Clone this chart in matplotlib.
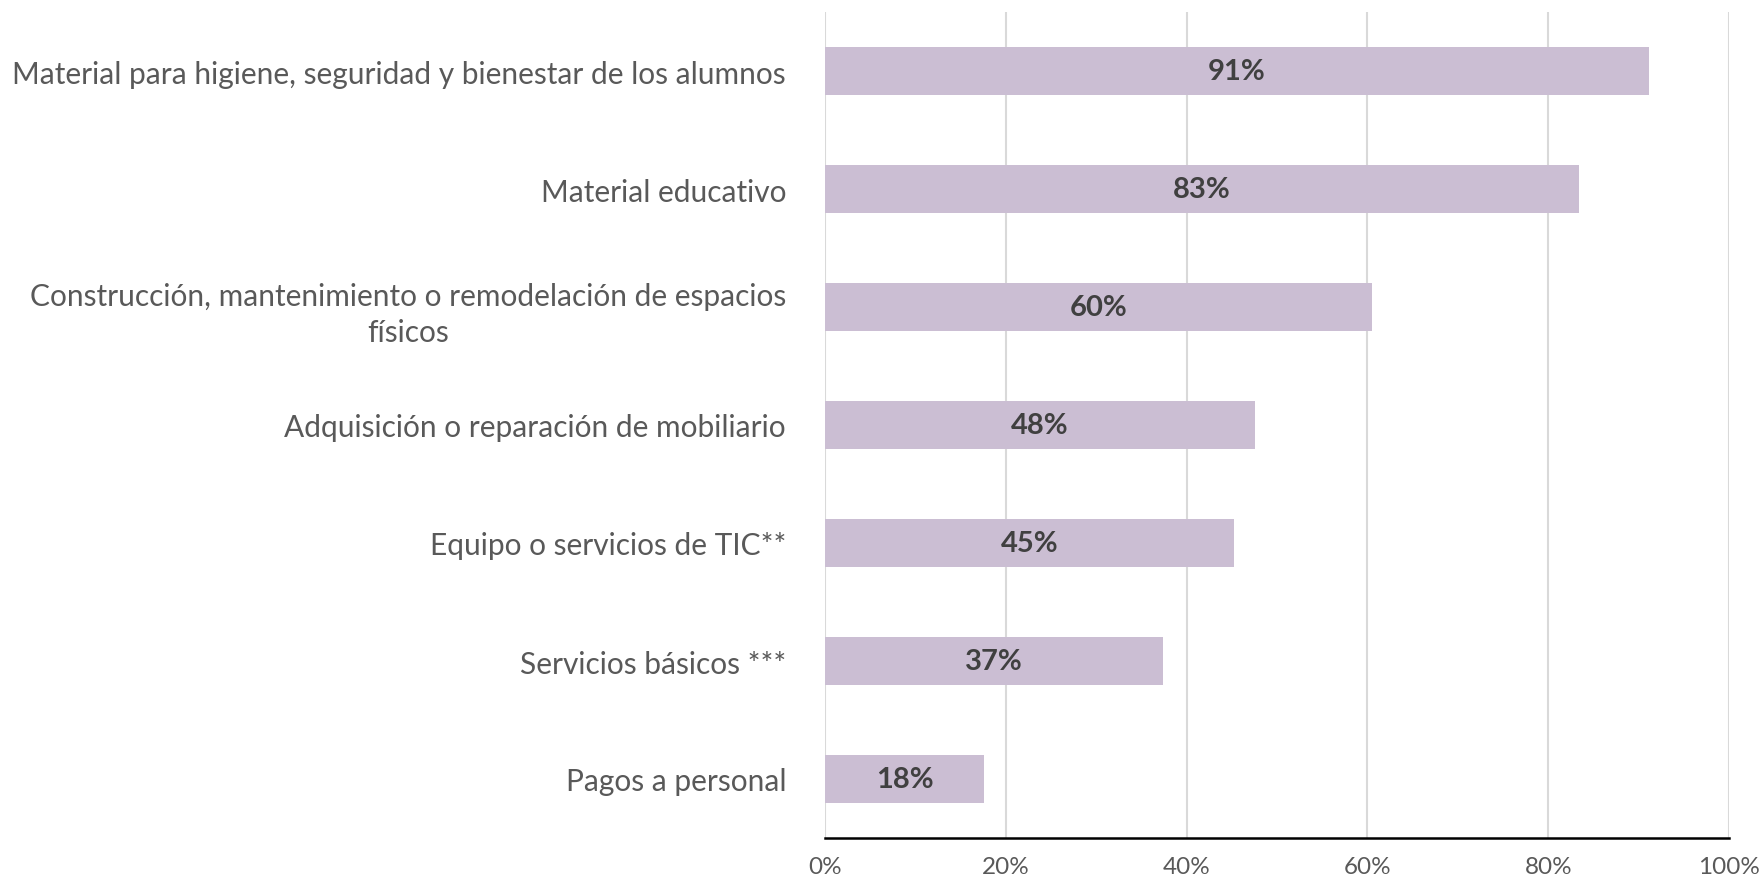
import matplotlib
matplotlib.use("Agg")
import matplotlib.pyplot as plt
from matplotlib.ticker import FuncFormatter

categories = [
    "Material para higiene, seguridad y bienestar de los alumnos",
    "Material educativo",
    "Construcción, mantenimiento o remodelación de espacios\nfísicos",
    "Adquisición o reparación de mobiliario",
    "Equipo o servicios de TIC**",
    "Servicios básicos ***",
    "Pagos a personal",
]
values = [91.1, 83.4, 60.5, 47.6, 45.2, 37.4, 17.6]
xticks = [0, 20, 40, 60, 80, 100]

plt.rcParams['font.family'] = ['Lato', 'DejaVu Sans']

fig = plt.figure(figsize=(17.62, 8.79), dpi=100)
bottom = 1 - 839 / 879
top = 1 - 13 / 879
ax = fig.add_axes([0.4682, bottom, 0.9813 - 0.4682, top - bottom])

ypos = list(range(len(categories)))
ax.barh(ypos, values, height=0.4, color="#CBBED3", zorder=3)
for y, v in zip(ypos, values):
    ax.text(v / 2, y, f"{round(v):d}%", ha="center", va="center",
            fontsize=21, fontweight="bold", color="#404040", zorder=4)

ax.set_xlim(0, 100)
ax.set_ylim(len(categories) - 0.5, -0.5)
ax.set_xticks(xticks)
ax.xaxis.set_major_formatter(FuncFormatter(lambda x, p: f"{int(x)}%"))
ax.set_yticks(ypos)
ax.set_yticklabels(categories, multialignment="center", linespacing=1.35)
ax.tick_params(axis="y", length=0, pad=28, labelsize=21.5, labelcolor="#595959")
ax.tick_params(axis="x", length=0, pad=13, labelsize=17.5, labelcolor="#595959")
ax.grid(axis="x", color="#D9D9D9", linewidth=1.5, zorder=0)
for s in ["top", "right", "left"]:
    ax.spines[s].set_visible(False)
ax.spines["bottom"].set_color("black")
ax.spines["bottom"].set_linewidth(1.8)
ax.spines["bottom"].set_zorder(5)

fig.savefig("out.png", dpi=100)
